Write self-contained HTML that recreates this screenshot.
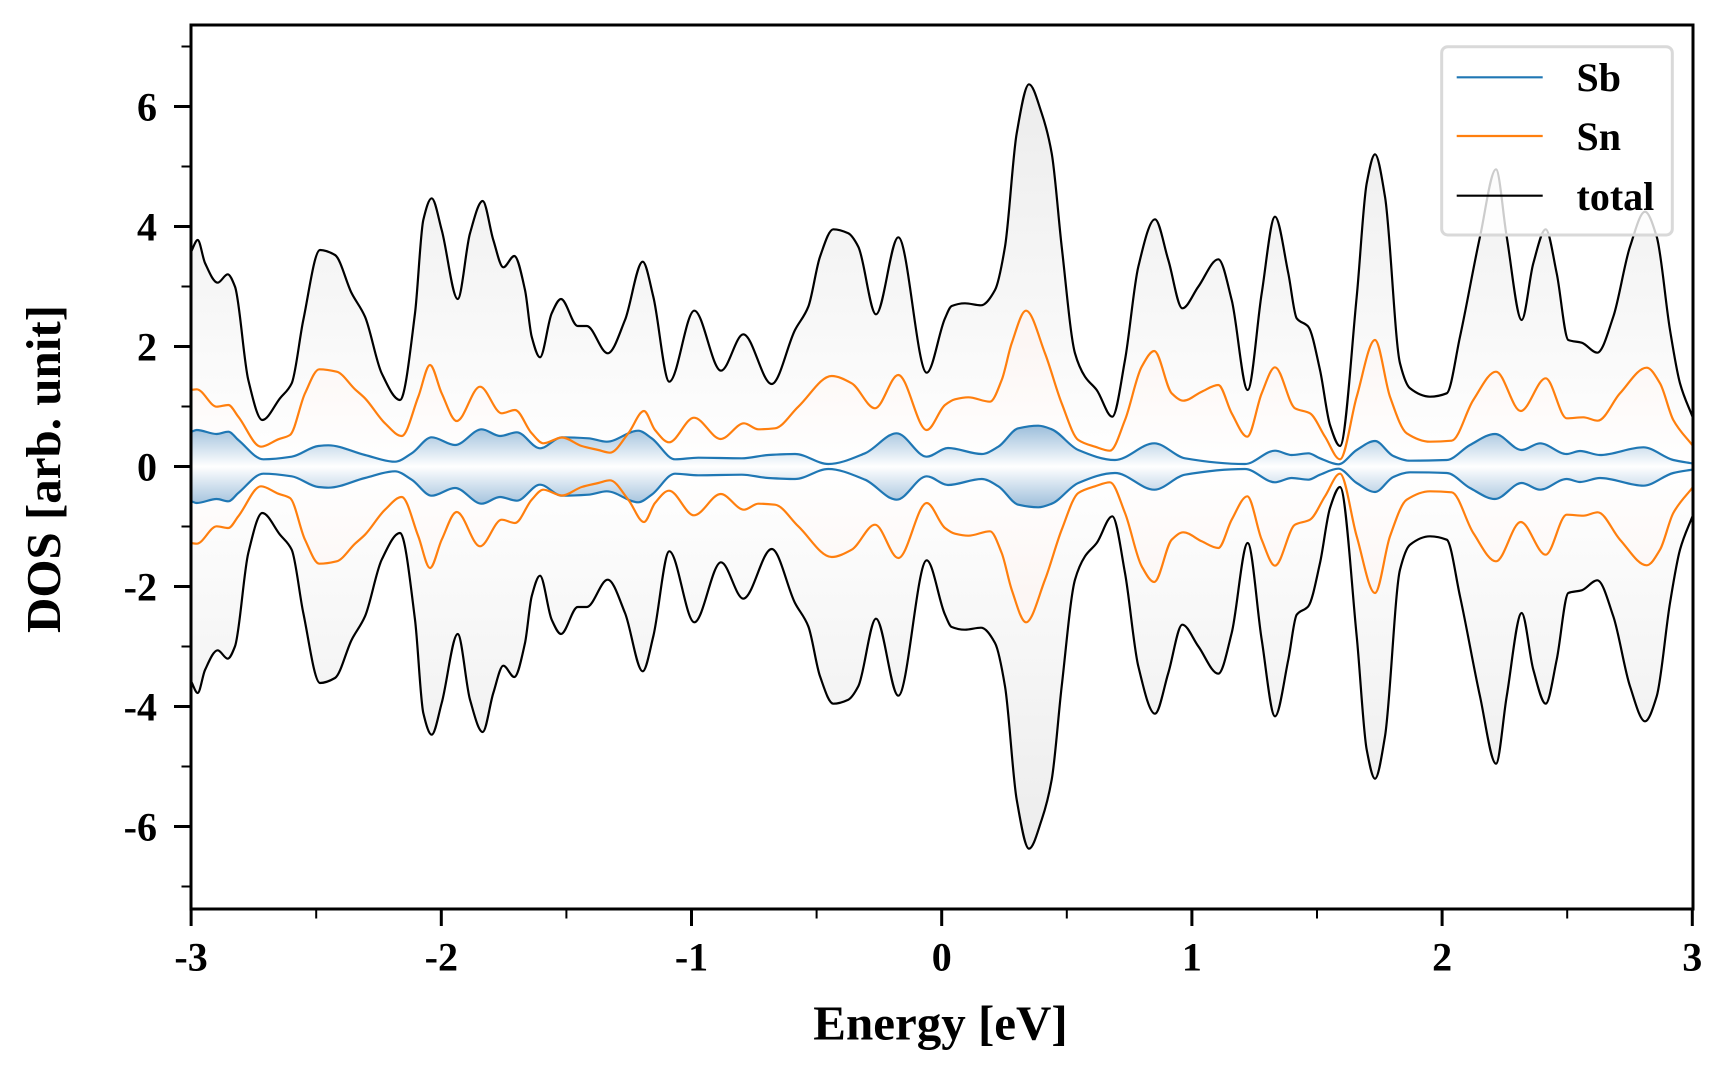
<!DOCTYPE html>
<html><head><meta charset="utf-8"><style>
html,body{margin:0;padding:0;background:#fff;}
svg{display:block;}
text{font-family:"Liberation Serif","Times New Roman",serif;font-weight:bold;fill:#000;}
</style></head><body>
<svg xmlns="http://www.w3.org/2000/svg" xmlns:xlink="http://www.w3.org/1999/xlink" width="1728" height="1080" viewBox="0 0 1728 1080">
<defs>
<clipPath id="clip"><rect x="191" y="25" width="1502" height="884"/></clipPath>
<linearGradient id="gk" gradientUnits="userSpaceOnUse" x1="0" y1="84" x2="0" y2="466.5">
<stop offset="0" stop-color="#ececec"/><stop offset="1" stop-color="#ffffff"/></linearGradient>
<linearGradient id="go" gradientUnits="userSpaceOnUse" x1="0" y1="340" x2="0" y2="466.5">
<stop offset="0" stop-color="#fcf6f4"/><stop offset="1" stop-color="#ffffff"/></linearGradient>
<linearGradient id="gb" gradientUnits="userSpaceOnUse" x1="0" y1="424" x2="0" y2="466.5">
<stop offset="0" stop-color="#98bbd9"/><stop offset="1" stop-color="#ffffff"/></linearGradient>
</defs>
<g clip-path="url(#clip)">
<g id="upper">
<path id="fk" fill="url(#gk)" stroke="none" d=""/>
<path id="fo" fill="url(#go)" stroke="none" d=""/>
<path id="fb" fill="url(#gb)" stroke="none" d=""/>
<path id="lb" fill="none" stroke="#1f77b4" stroke-width="2.2" stroke-linejoin="round" d="M191 432 L196.7 430 L216.7 434 L228.3 431.7 L238.3 440 L263.3 459.3 L291.7 456.7 L318.3 446 L328.3 445.3 L365 455 L395 461.7 L411.7 453.3 L431.7 437.3 L455 445 L481.7 429.3 L500 436 L516.7 432.3 L540 448.3 L562 437.3 L588.3 438.3 L606.7 441.7 L638.3 430.7 L651.7 438.3 L675 459.3 L698.3 457.7 L741.7 458.3 L768.3 455 L795 454 L828.3 464 L865 453.3 L896.7 433.3 L926.7 456.7 L948 448 L981.7 454 L998.3 446.7 L1018.3 428.3 L1038.3 425.7 L1051.7 429.3 L1078.3 450 L1115 460 L1154.3 443.3 L1185 458.3 L1245 464 L1275 450.7 L1291.7 455 L1308.3 453.3 L1320 458.3 L1338.3 464.3 L1356.7 450 L1375 441 L1393.3 456 L1410 460.7 L1446.7 460 L1470 445 L1495 434 L1521.7 450 L1540 443.3 L1566.7 454 L1580 451 L1600 455 L1643.3 447.3 L1673.3 460 L1693 463.5"/>
<path id="lo" fill="none" stroke="#ff7f0e" stroke-width="2.2" stroke-linejoin="round" d="M191 390 L196.7 389.3 L216.7 406.7 L228.3 405 L238.3 416.7 L261 446.7 L278.3 439.3 L290 435 L305 393.3 L319.3 369.3 L336.7 371.7 L355 389.3 L365 398.3 L385 423.3 L401.7 436 L418.3 396.7 L430 365 L441.7 393.3 L456.7 421 L480 386.7 L501.7 413.3 L515 410 L531.7 433.3 L543.3 443.3 L562 437.5 L581.7 446 L598.3 450 L610 452.7 L628.3 433.3 L644 411 L655 430 L669 442.3 L694 417.7 L720.7 439 L744 423.3 L758.3 429.3 L775 428.3 L798.3 406.7 L831.7 376 L851.7 383.3 L875 408.3 L898.3 375 L926.7 430 L945 405 L955 399.3 L968.3 397.3 L990 401.7 L1001.7 380 L1011.7 343.3 L1026 310.7 L1045 353.3 L1061.7 403.3 L1078.3 440 L1095 446.7 L1110 450.7 L1125 420 L1141.7 366.7 L1154.3 351 L1171.7 393.3 L1183.3 400.7 L1201.7 391.7 L1218.3 385 L1231.7 413.3 L1247.3 436.7 L1261.7 393.3 L1275 367.3 L1295 408.3 L1310 413.3 L1325 436.7 L1340 459.3 L1356.7 396.7 L1375 340 L1390 396.7 L1406.7 433.3 L1430 441.7 L1451.7 440.7 L1473.3 400 L1496 371.7 L1520.7 411 L1545.7 378.3 L1566.7 418.3 L1583.3 417.3 L1597.7 420.7 L1620 393.3 L1646.7 367.7 L1660 383.3 L1673.3 420 L1693 446"/>
<path id="lk" fill="none" stroke="#000" stroke-width="2.2" stroke-linejoin="round" d="M191 252 L197.7 240 L205 263 L217.7 282.7 L227.7 274.3 L235 286.7 L248.3 380 L262.3 420 L280 398.3 L291.7 383.3 L303.3 320 L320 250 L335 255 L351.7 293.3 L365 316.7 L381.7 373.3 L400 400 L415 313.3 L423.3 220 L431.7 198.3 L441.7 230 L457.7 299 L470 233.3 L482.7 201 L493.3 240 L503.3 267.3 L514.3 256 L525 290 L531.7 336.7 L540 357.3 L551.7 313.3 L561 299 L577.7 326 L586.7 326 L607.7 353.3 L625 320 L642.7 261.7 L653.3 296.7 L669.3 381.7 L694.3 310.7 L721 370.7 L743.3 334.3 L771.7 384 L795 330 L808.3 306.7 L820 256.7 L833.3 229.3 L848.3 233.3 L858.3 246.7 L876 314.3 L898.3 237.3 L926.7 372.7 L945 318.3 L951.7 306 L965 303.3 L981 305.3 L995 290 L1005 246.7 L1016.7 133.3 L1029 84.3 L1041.7 113.3 L1051.7 153.3 L1061.7 246.7 L1075 353.3 L1085 376.7 L1096.7 390 L1112.3 416.7 L1125 360 L1138.3 266.7 L1155 219.3 L1168.3 260 L1182.3 308.3 L1198.3 286.7 L1218.3 259.3 L1231.7 300 L1247.7 390 L1261.7 293.3 L1275 216.7 L1288.3 273.3 L1296.7 318.3 L1308.3 326.7 L1320 370 L1330 425 L1340 446 L1356.7 296.7 L1366.7 183.3 L1375 154.3 L1385 196.7 L1400 363.3 L1410 388.3 L1430 396.7 L1446.7 393.3 L1460 336.7 L1480 236.7 L1496 169.3 L1506.7 236.7 L1521.7 320 L1533.3 263.3 L1545.7 229.3 L1556.7 273.3 L1568.3 340 L1581.7 342.7 L1597.3 352.7 L1613.3 316.7 L1630 246.7 L1645 211.7 L1656.7 236.7 L1670 330 L1680 383.3 L1693 418"/>
</g>
<use xlink:href="#upper" href="#upper" transform="matrix(1 0 0 -1 0 933)"/>
</g>

<!-- frame -->
<rect x="191" y="25" width="1502" height="884" fill="none" stroke="#000" stroke-width="3"/>

<!-- x ticks -->
<g stroke="#000" stroke-width="3">
<line x1="191.1" y1="909" x2="191.1" y2="926"/>
<line x1="441.3" y1="909" x2="441.3" y2="926"/>
<line x1="691.5" y1="909" x2="691.5" y2="926"/>
<line x1="941.7" y1="909" x2="941.7" y2="926"/>
<line x1="1191.9" y1="909" x2="1191.9" y2="926"/>
<line x1="1442.1" y1="909" x2="1442.1" y2="926"/>
<line x1="1692.3" y1="909" x2="1692.3" y2="926"/>
</g>
<g stroke="#000" stroke-width="2">
<line x1="316.2" y1="909" x2="316.2" y2="918.5"/>
<line x1="566.4" y1="909" x2="566.4" y2="918.5"/>
<line x1="816.6" y1="909" x2="816.6" y2="918.5"/>
<line x1="1066.8" y1="909" x2="1066.8" y2="918.5"/>
<line x1="1317" y1="909" x2="1317" y2="918.5"/>
<line x1="1567.2" y1="909" x2="1567.2" y2="918.5"/>
</g>
<!-- y ticks -->
<g stroke="#000" stroke-width="3">
<line x1="174" y1="106.5" x2="191" y2="106.5"/>
<line x1="174" y1="226.5" x2="191" y2="226.5"/>
<line x1="174" y1="346.5" x2="191" y2="346.5"/>
<line x1="174" y1="466.5" x2="191" y2="466.5"/>
<line x1="174" y1="586.5" x2="191" y2="586.5"/>
<line x1="174" y1="706.5" x2="191" y2="706.5"/>
<line x1="174" y1="826.5" x2="191" y2="826.5"/>
</g>
<g stroke="#000" stroke-width="2">
<line x1="181.5" y1="46.5" x2="191" y2="46.5"/>
<line x1="181.5" y1="166.5" x2="191" y2="166.5"/>
<line x1="181.5" y1="286.5" x2="191" y2="286.5"/>
<line x1="181.5" y1="406.5" x2="191" y2="406.5"/>
<line x1="181.5" y1="526.5" x2="191" y2="526.5"/>
<line x1="181.5" y1="646.5" x2="191" y2="646.5"/>
<line x1="181.5" y1="766.5" x2="191" y2="766.5"/>
<line x1="181.5" y1="886.5" x2="191" y2="886.5"/>
</g>

<!-- x tick labels -->
<g font-size="40" text-anchor="middle">
<text x="191.1" y="970.5">-3</text>
<text x="441.3" y="970.5">-2</text>
<text x="691.5" y="970.5">-1</text>
<text x="941.7" y="970.5">0</text>
<text x="1191.9" y="970.5">1</text>
<text x="1442.1" y="970.5">2</text>
<text x="1692.3" y="970.5">3</text>
</g>
<!-- y tick labels -->
<g font-size="40" text-anchor="end">
<text x="157" y="120.5">6</text>
<text x="157" y="240.5">4</text>
<text x="157" y="360.5">2</text>
<text x="157" y="480.5">0</text>
<text x="157" y="600.5">-2</text>
<text x="157" y="720.5">-4</text>
<text x="157" y="840.5">-6</text>
</g>

<!-- axis labels -->
<text x="940.5" y="1039.5" font-size="49" text-anchor="middle">Energy [eV]</text>
<text transform="translate(60,469) rotate(-90)" font-size="49" text-anchor="middle">DOS [arb. unit]</text>

<!-- legend -->
<rect x="1441.7" y="46.7" width="230.6" height="188.3" rx="6" ry="6" fill="#ffffff" fill-opacity="0.8" stroke="#d9d9d9" stroke-width="3"/>
<line x1="1456.7" y1="77.3" x2="1542.7" y2="77.3" stroke="#1f77b4" stroke-width="2.2"/>
<line x1="1456.7" y1="136" x2="1542.7" y2="136" stroke="#ff7f0e" stroke-width="2.2"/>
<line x1="1456.7" y1="195.7" x2="1542.7" y2="195.7" stroke="#000" stroke-width="2.2"/>
<g font-size="40">
<text x="1576.5" y="91">Sb</text>
<text x="1576.5" y="150">Sn</text>
<text x="1576.5" y="210">total</text>
</g>
</svg>
<script>
(function(){
function parse(d){var n=d.match(/-?\d+(\.\d+)?/g).map(Number);var p=[];for(var i=0;i+1<n.length;i+=2)p.push([n[i],n[i+1]]);return p;}
function pchip(p){
 var n=p.length,m=new Array(n),s=[],h=[],i;
 for(i=0;i<n-1;i++){h.push(p[i+1][0]-p[i][0]);s.push((p[i+1][1]-p[i][1])/h[i]);}
 for(i=1;i<n-1;i++){
  var s0=s[i-1],s1=s[i],h0=h[i-1],h1=h[i];
  if(s0*s1<=0){m[i]=0;}
  else{var w1=2*h1+h0,w2=h1+2*h0;m[i]=(w1+w2)/(w1/s0+w2/s1);}
 }
 m[0]=s[0];m[n-1]=s[n-2];
 var d='M'+p[0][0]+','+p[0][1];
 for(i=0;i<n-1;i++){var t=h[i]/3;
  d+=' C'+(p[i][0]+t).toFixed(2)+','+(p[i][1]+m[i]*t).toFixed(2)+' '+(p[i+1][0]-t).toFixed(2)+','+(p[i+1][1]-m[i+1]*t).toFixed(2)+' '+p[i+1][0]+','+p[i+1][1];}
 return d;}
var pairs=[['lk','fk'],['lo','fo'],['lb','fb']];
for(var k=0;k<pairs.length;k++){
 var l=document.getElementById(pairs[k][0]),f=document.getElementById(pairs[k][1]);
 var pts=parse(l.getAttribute('d'));var sd=pchip(pts);
 l.setAttribute('d',sd);
 f.setAttribute('d',sd+' L'+pts[pts.length-1][0]+',466.5 L'+pts[0][0]+',466.5 Z');
}
})();
</script>
</body></html>
